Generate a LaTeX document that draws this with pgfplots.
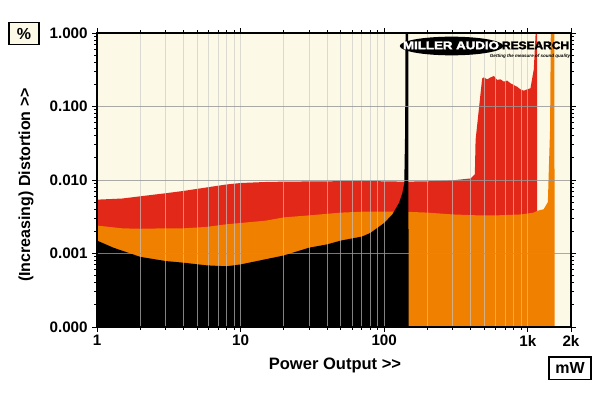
\documentclass[border=0pt]{standalone}
\usepackage{pgfplots}
\pgfplotsset{compat=1.18}
\usepackage{fontspec}
\setmainfont{Liberation Sans}
\newfontfamily\logofont[FakeBold=2.5]{Liberation Sans Bold}
\definecolor{cream}{RGB}{252,249,230}
\definecolor{redc}{RGB}{226,40,24}
\definecolor{orangec}{RGB}{240,128,0}
\definecolor{gridv}{RGB}{200,200,200}
\definecolor{gridh}{RGB}{150,150,150}
\begin{document}
\begin{tikzpicture}
\useasboundingbox (-72.75pt,-49.5pt) rectangle (377.25pt,245.25pt);
\begin{axis}[
  name=ax, at={(0,0)}, anchor=south west,
  scale only axis, width=355.5pt, height=220.5pt,
  xmode=log, ymode=log,
  xmin=1, xmax=2000, ymin=1e-4, ymax=1,
  axis background/.style={fill=cream},
  axis on top,
  axis line style={line width=1.4pt},
  xtick={1,10,100,1000,2000},
  xticklabels={1,10,100,1k,2k},
  minor xtick={2,3,4,5,6,7,8,9,20,30,40,50,60,70,80,90,200,300,400,500,600,700,800,900},
  ytick={0.0001,0.001,0.01,0.1,1},
  yticklabels={0.000,0.001,0.010,0.100,1.000},
  minor ytick={0.0002,0.0003,0.0004,0.0005,0.0006,0.0007,0.0008,0.0009,
    0.002,0.003,0.004,0.005,0.006,0.007,0.008,0.009,
    0.02,0.03,0.04,0.05,0.06,0.07,0.08,0.09,
    0.2,0.3,0.4,0.5,0.6,0.7,0.8,0.9},
  tick align=outside,
  major tick length=3.5pt, minor tick length=2pt,
  tick style={black, line width=0.7pt},
  xmajorgrids, xminorgrids, ymajorgrids,
  x grid style={gridv, line width=0.7pt, opacity=0.65},
  y grid style={gridh, line width=0.7pt, opacity=0.8},
  ticklabel style={font=\bfseries\fontsize{11.4}{13}\selectfont},
  xticklabel style={yshift=1pt},
]
% red
\addplot[fill=redc, draw=none] coordinates {
(1,0.0001) (1,0.0054) (1.5,0.0056) (2,0.0060) (3,0.0066) (4,0.0071) (6,0.0080)
(8,0.0087) (10,0.0091) (15,0.0094) (20,0.0095) (40,0.0096) (70,0.0097) (100,0.0096)
(140,0.0095) (200,0.0096) (300,0.0099) (400,0.0105) (428,0.012) (433,0.035)
(481,0.24) (494,0.249) (522,0.234) (551,0.249) (581,0.26) (612,0.23) (646,0.234)
(681,0.218) (718,0.225) (758,0.207) (799,0.196) (843,0.186) (889,0.171) (938,0.164)
(989,0.171) (1044,0.177) (1101,0.32) (1140,1.2) (1160,2) (1161,0.0001)
};
% orange
\addplot[fill=orangec, draw=none] coordinates {
(1,0.0001) (1,0.0024) (1.5,0.0022) (2,0.00217) (3,0.0022) (4,0.0022) (5.8,0.0023)
(8,0.0025) (10,0.0026) (15,0.0028) (20,0.0031) (30,0.0033) (50,0.0036) (70,0.0037)
(100,0.0037) (140,0.0037) (200,0.0036) (300,0.0034) (457,0.0033) (600,0.0033)
(900,0.0034) (1100,0.0036) (1160,0.0038) (1290,0.004) (1380,0.005) (1430,0.05)
(1450,2) (1530,2) (1540,0.0001)
};
% black
\addplot[fill=black, draw=none] coordinates {
(1,0.0001) (1,0.0015) (1.3,0.0012) (2,0.0009) (3,0.00079) (4,0.00075) (5.8,0.00069)
(8,0.00067) (10,0.00071) (20,0.00094) (30,0.0012) (40,0.00133) (50,0.0015)
(70,0.0017) (80,0.0019) (100,0.0026) (114,0.0034) (127,0.0049) (134,0.0067)
(138,0.009) (140,0.05) (141,2) (147,2) (148,0.0001)
};
\end{axis}
% axis labels
\node[rotate=90, font=\bfseries\fontsize{12}{14}\selectfont] at (-53.25pt,106.5pt) {(Increasing) Distortion >{}>};
\node[font=\bfseries\fontsize{12.4}{14}\selectfont] at (178.5pt,-28.5pt) {Power Output >{}>};
\node[draw, line width=1pt, fill=cream, minimum width=22.5pt, minimum height=16.5pt, inner sep=0pt,
  font=\bfseries\fontsize{12}{14}\selectfont] at (-54.75pt,220.1pt) {\%};
\node[draw, line width=1pt, fill=white, minimum width=31.5pt, minimum height=17pt, inner sep=0pt,
  font=\bfseries\fontsize{12}{14}\selectfont] at (354.75pt,-31.1pt) {mW};
% logo
\fill[black] (265.9pt,210.75pt) ellipse (38.8pt and 7pt);
\node[white, font=\logofont\fontsize{8.3}{8}\selectfont, xscale=1.2, inner sep=0pt] at (265.5pt,211.2pt) {MILLER AUDIO};
\node[black, font=\logofont\fontsize{8.3}{8}\selectfont, xscale=1.08, inner sep=0pt] at (328.9pt,211.2pt) {RESEARCH};
\node[black, font=\bfseries\itshape\fontsize{3.4}{4}\selectfont, inner sep=0pt] at (324.75pt,203.25pt) {Getting the measure of sound quality};
\end{tikzpicture}
\end{document}
